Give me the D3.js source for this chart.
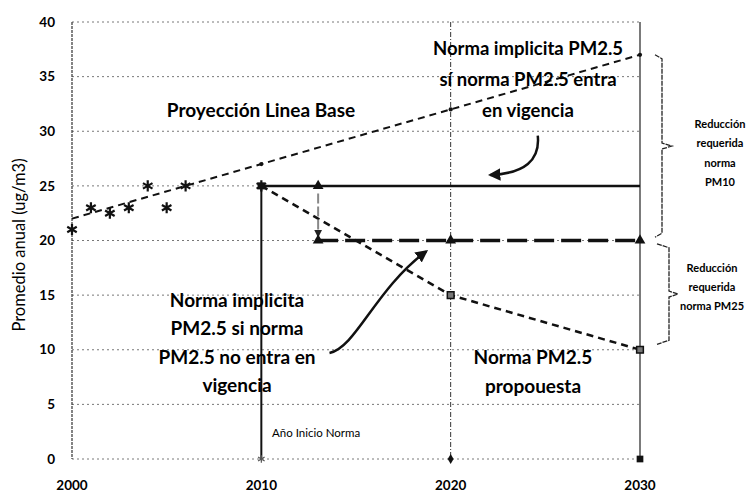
<!DOCTYPE html>
<html>
<head>
<meta charset="utf-8">
<script src="https://cdn.jsdelivr.net/npm/d3@7"></script>
<style>
  body { margin: 0; background: #fff; }
  svg { display: block; font-family: Lato, "DejaVu Sans", sans-serif; }
</style>
</head>
<body>
<svg width="754" height="493"></svg>
<script>
// observed annual means (asterisks)
const obsYears = [2000, 2001, 2002, 2003, 2004, 2005, 2006, 2010];
const obsValues = [21, 23, 22.5, 23, 25, 23, 25, 25];
// baseline projection
const baseYears = [2000, 2010, 2020, 2030];
const baseValues = [22, 27, 32, 37];
// PM10 norm
const pm10Years = [2010, 2030];
const pm10Values = [25, 25];
// implied norm if PM2.5 enters
const implYears = [2013, 2020, 2030];
const implValues = [20, 20, 20];
// proposed PM2.5 norm path
const propYears = [2010, 2020, 2030];
const propValues = [25, 15, 10];
// start year line
const startYear = 2010;
const startTop = 25;

const yTicks = [0, 5, 10, 15, 20, 25, 30, 35, 40];
const xTicks = [2000, 2010, 2020, 2030];

const svg = d3.select('svg');

const x = d3.scaleLinear().domain([2000, 2030]).range([72, 640]);
const y = d3.scaleLinear().domain([0, 40]).range([459, 22]);

const defs = svg.append('defs');
defs.append('marker')
  .attr('id', 'head')
  .attr('viewBox', '0 0 10 10')
  .attr('refX', 8).attr('refY', 5)
  .attr('markerWidth', 5).attr('markerHeight', 5)
  .attr('orient', 'auto')
  .append('path').attr('d', 'M0,0 L10,5 L0,10 z').attr('fill', '#111');
defs.append('marker')
  .attr('id', 'headGray')
  .attr('viewBox', '0 0 10 10')
  .attr('refX', 8).attr('refY', 5)
  .attr('markerWidth', 4).attr('markerHeight', 4)
  .attr('orient', 'auto')
  .append('path').attr('d', 'M0,0 L10,5 L0,10 z').attr('fill', '#222');

// horizontal grid
svg.append('g')
  .selectAll('line')
  .data(yTicks)
  .enter()
  .append('line')
  .attr('x1', x(2000)).attr('x2', x(2030))
  .attr('y1', d => y(d)).attr('y2', d => y(d))
  .attr('stroke', '#555')
  .attr('stroke-width', 0.8)
  .attr('stroke-dasharray', '2,3');

// left axis
svg.append('line')
  .attr('x1', x(2000)).attr('x2', x(2000))
  .attr('y1', y(40)).attr('y2', y(0))
  .attr('stroke', '#333').attr('stroke-width', 1.2)
  .attr('stroke-dasharray', '3,1');

// vertical lines 2020, 2030
svg.append('line')
  .attr('x1', x(2020)).attr('x2', x(2020))
  .attr('y1', y(40)).attr('y2', y(0))
  .attr('stroke', '#333').attr('stroke-width', 1)
  .attr('stroke-dasharray', '5,2,1,2');
svg.append('line')
  .attr('x1', x(2030)).attr('x2', x(2030))
  .attr('y1', y(40)).attr('y2', y(0))
  .attr('stroke', '#222').attr('stroke-width', 1.2);

// tick labels
svg.append('g')
  .selectAll('text')
  .data(yTicks)
  .enter()
  .append('text')
  .attr('x', 55)
  .attr('y', d => y(d))
  .attr('dy', '0.35em')
  .attr('text-anchor', 'end')
  .attr('font-size', '13.5px')
  .attr('font-weight', 'bold')
  .text(d => d);

svg.append('g')
  .selectAll('text')
  .data(xTicks)
  .enter()
  .append('text')
  .attr('x', d => x(d))
  .attr('y', 490)
  .attr('text-anchor', 'middle')
  .attr('font-size', '13.5px')
  .attr('font-weight', 'bold')
  .text(d => d);

svg.append('text')
  .attr('transform', 'translate(25,245) rotate(-90)')
  .attr('text-anchor', 'middle')
  .attr('font-size', '16.5px')
  .text('Promedio anual (ug/m3)');

const line = d3.line().x(d => x(d[0])).y(d => y(d[1]));
const zip = (a, b) => a.map((v, i) => [v, b[i]]);

// start year vertical
svg.append('path')
  .attr('d', line([[startYear, startTop], [startYear, 0]]))
  .attr('stroke', '#111').attr('stroke-width', 2).attr('fill', 'none');

// baseline projection
svg.append('path')
  .attr('d', line(zip(baseYears, baseValues)))
  .attr('stroke', '#111').attr('stroke-width', 2)
  .attr('stroke-dasharray', '7,5').attr('fill', 'none');

// PM10 norm
svg.append('path')
  .attr('d', line(zip(pm10Years, pm10Values)))
  .attr('stroke', '#111').attr('stroke-width', 2.5).attr('fill', 'none');

// implied norm
svg.append('path')
  .attr('d', line(zip(implYears, implValues)))
  .attr('stroke', '#111').attr('stroke-width', 3.5)
  .attr('stroke-dasharray', '20,7').attr('fill', 'none');

// proposed
svg.append('path')
  .attr('d', line(zip(propYears, propValues)))
  .attr('stroke', '#111').attr('stroke-width', 2.5)
  .attr('stroke-dasharray', '7,5').attr('fill', 'none');

// gray arrow 25 -> 20 at 2013
svg.append('path')
  .attr('d', line([[2013, 24.3], [2013, 20.4]]))
  .attr('stroke', '#888').attr('stroke-width', 2)
  .attr('stroke-dasharray', '10,3')
  .attr('marker-end', 'url(#headGray)');

// markers
const sym = (type, size) => d3.symbol().type(type).size(size)();
svg.append('g')
  .selectAll('path')
  .data(zip(obsYears, obsValues))
  .enter()
  .append('path')
  .attr('transform', d => `translate(${x(d[0])},${y(d[1])})`)
  .attr('d', sym(d3.symbolAsterisk, 85))
  .attr('stroke', '#111').attr('stroke-width', 2.2).attr('fill', 'none');

svg.append('path')
  .attr('transform', `translate(${x(2010)},${y(25)})`)
  .attr('d', sym(d3.symbolSquare, 50)).attr('fill', '#111');

svg.append('path')
  .attr('transform', `translate(${x(2010)},${y(0)})`)
  .attr('d', sym(d3.symbolAsterisk, 40))
  .attr('stroke', '#555').attr('stroke-width', 1.2).attr('fill', 'none');
svg.append('path')
  .attr('transform', `translate(${x(2020)},${y(0)})`)
  .attr('d', sym(d3.symbolDiamond, 30)).attr('fill', '#111');
svg.append('path')
  .attr('transform', `translate(${x(2030)},${y(0)})`)
  .attr('d', sym(d3.symbolSquare, 45)).attr('fill', '#111');

// baseline points
svg.append('g')
  .selectAll('path')
  .data(zip(baseYears, baseValues).slice(1))
  .enter()
  .append('path')
  .attr('transform', d => `translate(${x(d[0])},${y(d[1])})`)
  .attr('d', sym(d3.symbolCircle, 14)).attr('fill', '#111');

// triangles
svg.append('g')
  .selectAll('path')
  .data(zip(implYears, implValues).concat([[2013, 25]]))
  .enter()
  .append('path')
  .attr('transform', d => `translate(${x(d[0])},${y(d[1])})`)
  .attr('d', sym(d3.symbolTriangle, 50)).attr('fill', '#111');

// squares on proposed
svg.append('g')
  .selectAll('path')
  .data(zip(propYears, propValues).slice(1))
  .enter()
  .append('path')
  .attr('transform', d => `translate(${x(d[0])},${y(d[1])})`)
  .attr('d', sym(d3.symbolSquare, 45))
  .attr('fill', '#777').attr('stroke', '#111').attr('stroke-width', 1.5);

// text annotations
function block(lines, cx, y0, dy, size, weight) {
  const t = svg.append('text')
    .attr('text-anchor', 'middle')
    .attr('font-size', size)
    .attr('font-weight', weight);
  lines.forEach((s, i) => {
    t.append('tspan').attr('x', cx).attr('y', y0 + i * dy).attr('dy', '0.35em').text(s);
  });
}

block(['Proyección Linea Base'], 261, 110, 0, '19px', 'bold');
block(['Norma implicita PM2.5', 'sí norma PM2.5 entra', 'en vigencia'], 528, 49, 31, '18.5px', 'bold');
block(['Norma implicita', 'PM2.5 si norma', 'PM2.5 no entra en', 'vigencia'], 237, 300, 28.5, '19px', 'bold');
block(['Norma PM2.5', 'propouesta'], 533, 357, 29, '19px', 'bold');
block(['Reducción', 'requerida', 'norma', 'PM10'], 720, 124, 19.5, '11px', 'bold');
block(['Reducción', 'requerida', 'norma PM25'], 712, 268, 19, '11px', 'bold');

svg.append('text')
  .attr('x', 272).attr('y', 433).attr('dy', '0.35em')
  .attr('font-size', '11.5px')
  .text('Año Inicio Norma');

// curved arrows
svg.append('path')
  .attr('d', `M${x(2024.6)},${y(29.6)} Q${x(2024.8)},${y(26.2)} ${x(2022.1)},${y(26)}`)
  .attr('stroke', '#111').attr('stroke-width', 2.5).attr('fill', 'none')
  .attr('marker-end', 'url(#head)');
svg.append('path')
  .attr('d', `M${x(2013.6)},${y(9.7)} C${x(2015)},${y(10.2)} ${x(2016)},${y(15.5)} ${x(2018.7)},${y(19)}`)
  .attr('stroke', '#111').attr('stroke-width', 2.5).attr('fill', 'none')
  .attr('marker-end', 'url(#head)');

// braces
const brace = (x0, x1, yTop, yBot, xn) => {
  const ym = (yTop + yBot) / 2;
  return `M${x0},${yTop} L${x1},${yTop + 4} L${x1},${ym - 3} L${xn},${ym} L${x1},${ym + 3} L${x1},${yBot - 4} L${x0},${yBot}`;
};
svg.append('path')
  .attr('d', brace(655, 662, y(37), y(20.3), 672))
  .attr('stroke', '#222').attr('stroke-width', 1.3).attr('fill', 'none')
  .attr('stroke-dasharray', '5,1');
svg.append('path')
  .attr('d', brace(657, 669, y(19.7), y(10.5), 678))
  .attr('stroke', '#222').attr('stroke-width', 1.3).attr('fill', 'none')
  .attr('stroke-dasharray', '5,1');
</script>
</body>
</html>
